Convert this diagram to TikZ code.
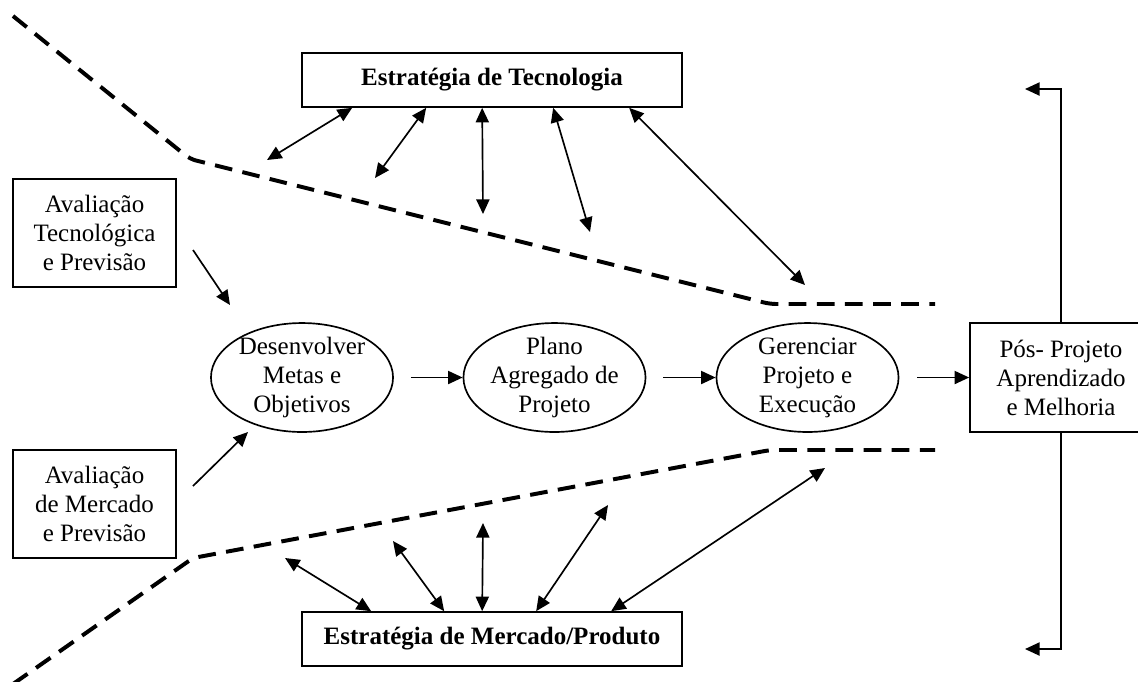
\documentclass[tikz,border=0pt]{standalone}
\usepackage{fontspec}
\setmainfont{Liberation Serif}
\usetikzlibrary{arrows.meta,shapes.geometric,calc}
\begin{document}
\begin{tikzpicture}[x=0.48pt,y=-0.48pt,
  every node/.style={font=\fontsize{12pt}{13.9pt}\selectfont, align=center},
  box/.style={draw, line width=0.8pt, rectangle, inner sep=0pt},
  strat/.style={box, minimum width=182.4pt, minimum height=25.9pt,
    font=\fontsize{12pt}{13.9pt}\selectfont\bfseries},
  assess/.style={box, minimum width=78.2pt, minimum height=51.8pt},
  oval/.style={draw, line width=0.8pt, ellipse, inner xsep=0pt, inner ysep=-3pt,
    minimum width=87.4pt, minimum height=52.3pt},
  tip/.tip={Triangle[length=7pt,width=6.3pt]},
  arr/.style={line width=0.8pt, -tip},
  dbl/.style={line width=0.8pt, tip-tip},
  bound/.style={line width=1.9pt, dash pattern=on 8.5pt off 5pt, rounded corners=3pt},
]
\useasboundingbox (0,0) rectangle (1138,681);

% strategy boxes
\node[strat] (tech) at (492,80) {Estratégia de Tecnologia};
\node[strat] (mkt) at (492,639) {Estratégia de Mercado/Produto};

% assessment boxes
\node[assess] (avtec) at (94.5,233) {Avaliação\\Tecnológica\\e Previsão};
\node[assess] (avmkt) at (94.5,504) {Avaliação\\de Mercado\\e Previsão};

% main process
\node[oval] (des) at (302,377.5) {Desenvolver\\Metas e\\Objetivos};
\node[oval] (plano) at (554.5,377.5) {Plano\\Agregado de\\Projeto};
\node[oval] (ger) at (807.5,377.5) {Gerenciar\\Projeto e\\Execução};
\node[box, minimum width=87.4pt, minimum height=52.3pt] (pos) at (1061,377.5)
  {Pós- Projeto\\Aprendizado\\e Melhoria};

% boundaries of the project funnel
\draw[bound] (13,16) -- (190,159) -- (770,304) -- (935,304);
\draw[bound] (13,684) -- (193,558) -- (770,450) -- (935,450);

% flow along the process
\draw[arr] ([xshift=8.2pt]des.east) -- (plano.west);
\draw[arr] ([xshift=8.2pt]plano.east) -- (ger.west);
\draw[arr] ([xshift=8.6pt]ger.east) -- (pos.west);

% assessment inputs
\coordinate (a1s) at (193,250); \coordinate (a1e) at (230,305);
\draw[arr] (a1s) -- (a1e);
\coordinate (a2s) at (193,486); \coordinate (a2e) at (248,432);
\draw[arr] (a2s) -- (a2e);

% feedback from post-project learning
\coordinate (fbt) at (1025,89);
\coordinate (fbb) at (1025,649);
\draw[arr] (pos.north) |- (fbt);
\draw[arr] (pos.south) |- (fbb);

% links with technology strategy
\foreach \dx/\fx/\fy [count=\i] in {51/267/160, 125/375/178, 181/483/214, 252/590/232, 328/805/285} {
  \coordinate (tf\i) at (\fx,\fy);
  \draw[dbl] ($(tech.south west)+(\dx,0)$) -- (tf\i);
}

% links with market/product strategy
\foreach \dx/\fx/\fy [count=\i] in {70/285/558, 143/393/541, 181/483/523, 235/608/505, 310/825/468} {
  \coordinate (mf\i) at (\fx,\fy);
  \draw[dbl] ($(mkt.north west)+(\dx,0)$) -- (mf\i);
}
\end{tikzpicture}
\end{document}
